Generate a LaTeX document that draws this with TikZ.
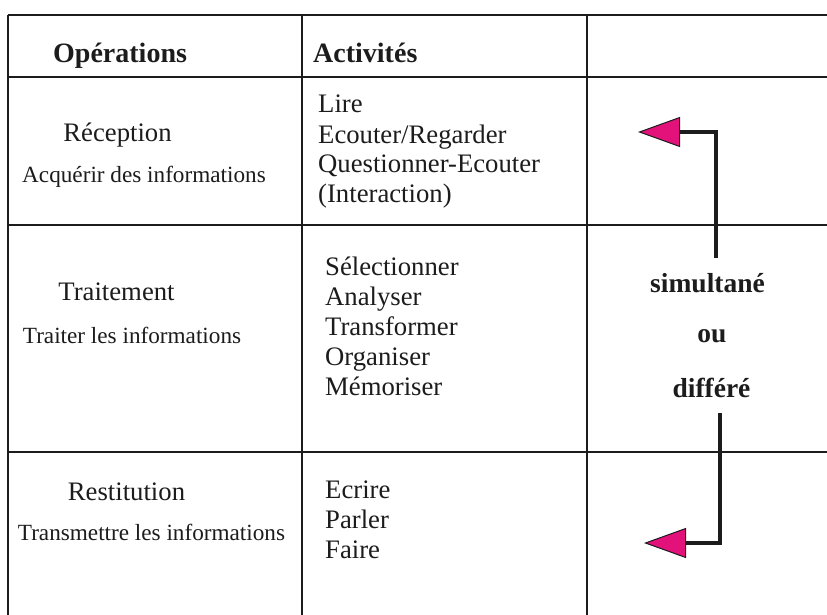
\documentclass[tikz,border=0pt]{standalone}
\usepackage{fontspec}
\setmainfont{Liberation Serif}
\usetikzlibrary{arrows.meta}
\definecolor{arrowpink}{RGB}{226,18,122}
\definecolor{ink}{RGB}{28,28,28}
\begin{document}
\begin{tikzpicture}[x=1pt,y=-1pt,
  grid/.style={draw=ink,line width=1.7pt},
  head/.style={anchor=base west,inner sep=0pt,text=ink,font=\fontsize{28}{30}\selectfont\bfseries},
  opname/.style={anchor=base,inner sep=0pt,text=ink,font=\fontsize{26.7}{30}\selectfont},
  opsub/.style={anchor=base,inner sep=0pt,text=ink,font=\fontsize{23.2}{26}\selectfont},
  item/.style={anchor=base west,inner sep=0pt,text=ink,font=\fontsize{26.7}{30}\selectfont},
  midtext/.style={anchor=base,inner sep=0pt,text=ink,font=\fontsize{27.5}{30}\selectfont\bfseries},
  link/.style={draw=ink,line width=3.6pt,line join=miter,
    -{Triangle[length=42pt,width=30pt,line width=1pt,fill=arrowpink]}}]
\useasboundingbox (0,0) rectangle (827,615);
\fill[white] (0,0) rectangle (827,615);
% grid
\draw[grid] (8,15) -- (827,15);
\draw[grid] (8,77) -- (827,77);
\draw[grid] (8,225) -- (827,225);
\draw[grid] (8,452) -- (827,452);
\draw[grid] (8,15) -- (8,615);
\draw[grid] (302,15) -- (302,615);
\draw[grid] (587,15) -- (587,615);
% header
\node[head] (hop) at (53,63) {Opérations};
\node[head] (hact) at (313,63) {Activités};
% operations
\node[opname] (rec) at (117.5,142) {Réception};
\node[opsub] (recs) at (144,182) {Acquérir des informations};
\node[opname] (tra) at (116.5,300) {Traitement};
\node[opsub] (tras) at (132,343) {Traiter les informations};
\node[opname] (res) at (126.5,500) {Restitution};
\node[opsub] (ress) at (151.5,540) {Transmettre les informations};
% activities
\node[item] (a1) at (318,113) {Lire};
\node[item] (a2) at (318,143) {Ecouter/Regarder};
\node[item] (a3) at (318,172) {Questionner-Ecouter};
\node[item] (a4) at (318,202) {(Interaction)};
\node[item] (b1) at (325,275) {Sélectionner};
\node[item] (b2) at (325,305) {Analyser};
\node[item] (b3) at (325,335) {Transformer};
\node[item] (b4) at (325,365) {Organiser};
\node[item] (b5) at (325,395) {Mémoriser};
\node[item] (c1) at (325,498) {Ecrire};
\node[item] (c2) at (325,528) {Parler};
\node[item] (c3) at (325,558) {Faire};
% middle text
\node[midtext] (sim) at (707.5,292) {simultané};
\node[midtext] (ou) at (712,342) {ou};
\node[midtext] (dif) at (711.5,397) {différé};
% connectors
\coordinate (tA) at (716,258);
\coordinate (tB) at (716,132);
\coordinate (tC) at (638,132);
\coordinate (bA) at (720,413);
\coordinate (bB) at (720,543);
\coordinate (bC) at (644,543);
\draw[link] (tA) -- (tB) -- (tC);
\draw[link] (bA) -- (bB) -- (bC);
\end{tikzpicture}
\end{document}
